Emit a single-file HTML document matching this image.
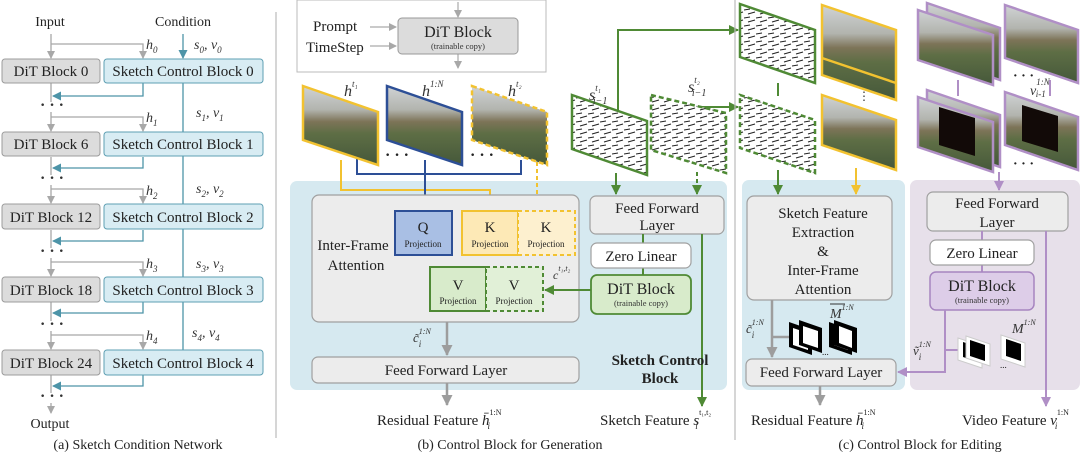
<!DOCTYPE html>
<html><head><meta charset="utf-8"><style>
html,body{margin:0;padding:0;background:#fff;}
svg{display:block;font-family:"Liberation Serif",serif;}
</style></head><body>
<svg width="1080" height="458" viewBox="0 0 1080 458" xmlns="http://www.w3.org/2000/svg">
<defs>
<marker id="ag" markerWidth="8" markerHeight="8" refX="7" refY="4" orient="auto" markerUnits="userSpaceOnUse"><path d="M0,0 L8,4 L0,8 z" fill="#a8a8a8"/></marker>
<marker id="at" markerWidth="9" markerHeight="9" refX="8" refY="4.5" orient="auto" markerUnits="userSpaceOnUse"><path d="M0,0 L9,4.5 L0,9 z" fill="#4d94a8"/></marker>
<marker id="agr" markerWidth="10" markerHeight="10" refX="9" refY="5" orient="auto" markerUnits="userSpaceOnUse"><path d="M0,0 L10,5 L0,10 z" fill="#4f8a35"/></marker>
<marker id="ay" markerWidth="10" markerHeight="10" refX="9" refY="5" orient="auto" markerUnits="userSpaceOnUse"><path d="M0,0 L10,5 L0,10 z" fill="#f2c230"/></marker>
<marker id="ab" markerWidth="10" markerHeight="10" refX="9" refY="5" orient="auto" markerUnits="userSpaceOnUse"><path d="M0,0 L10,5 L0,10 z" fill="#2d4f96"/></marker>
<marker id="ap" markerWidth="10" markerHeight="10" refX="9" refY="5" orient="auto" markerUnits="userSpaceOnUse"><path d="M0,0 L10,5 L0,10 z" fill="#b08fc6"/></marker>
<marker id="agy" markerWidth="11" markerHeight="11" refX="10" refY="5.5" orient="auto" markerUnits="userSpaceOnUse"><path d="M0,0 L11,5.5 L0,11 z" fill="#9d9d9d"/></marker>
<linearGradient id="photo" x1="0" y1="0" x2="0" y2="1">
<stop offset="0" stop-color="#d0d3d5"/><stop offset="0.3" stop-color="#b2b4ae"/><stop offset="0.45" stop-color="#7d7458"/><stop offset="0.6" stop-color="#5e6e45"/><stop offset="1" stop-color="#45583a"/></linearGradient>
<pattern id="sk" width="12" height="8" patternUnits="userSpaceOnUse"><rect width="12" height="8" fill="#fff"/><path d="M0,2 L6,1 M4,6 L11,4" stroke="#222" stroke-width="1.1"/></pattern>
</defs>

<!-- ===== Panel (a) ===== -->
<g font-size="14" fill="#222">
<text x="50" y="26" text-anchor="middle">Input</text>
<text x="183" y="26" text-anchor="middle">Condition</text>
</g>
<line x1="276" y1="12" x2="276" y2="438" stroke="#bbb" stroke-width="1.2"/>
<line x1="51" y1="34" x2="51" y2="58" stroke="#a8a8a8" stroke-width="1.3" marker-end="url(#ag)"/>
<line x1="183" y1="34" x2="183" y2="58" stroke="#4d94a8" stroke-width="1.3" marker-end="url(#at)"/>
<line x1="183" y1="83" x2="183" y2="350" stroke="#4d94a8" stroke-width="1.3"/>
<g stroke-width="1.3" fill="none">
<path d="M51,44 H143 V58" stroke="#a8a8a8" marker-end="url(#ag)"/>
<path d="M51,117 H143 V131" stroke="#a8a8a8" marker-end="url(#ag)"/>
<path d="M51,189 H143 V203" stroke="#a8a8a8" marker-end="url(#ag)"/>
<path d="M51,262 H143 V276" stroke="#a8a8a8" marker-end="url(#ag)"/>
<path d="M51,335 H143 V349" stroke="#a8a8a8" marker-end="url(#ag)"/>
<path d="M51,83 V102 M51,112 V131" stroke="#a8a8a8" marker-end="url(#ag)"/>
<path d="M51,157 V175 M51,185 V203" stroke="#a8a8a8" marker-end="url(#ag)"/>
<path d="M51,230 V248 M51,258 V276" stroke="#a8a8a8" marker-end="url(#ag)"/>
<path d="M51,302 V321 M51,331 V349" stroke="#a8a8a8" marker-end="url(#ag)"/>
<path d="M51,375 V393 M51,403 V413" stroke="#a8a8a8" marker-end="url(#ag)"/>
<path d="M143,83 V96 H53" stroke="#4d94a8" marker-end="url(#at)"/>
<path d="M143,157 V168 H53" stroke="#4d94a8" marker-end="url(#at)"/>
<path d="M143,230 V241 H53" stroke="#4d94a8" marker-end="url(#at)"/>
<path d="M143,302 V313 H53" stroke="#4d94a8" marker-end="url(#at)"/>
<path d="M143,375 V386 H53" stroke="#4d94a8" marker-end="url(#at)"/>
</g>
<g font-size="15" fill="#222">
<rect x="2" y="59" width="98" height="24" rx="3" fill="#dcdcdc" stroke="#9c9c9c"/>
<rect x="104" y="59" width="159" height="24" rx="3" fill="#d8ecf3" stroke="#5e9fb3"/>
<text x="51" y="76" text-anchor="middle">DiT Block 0</text><text x="183" y="76" text-anchor="middle">Sketch Control Block 0</text>
<rect x="2" y="132" width="98" height="24" rx="3" fill="#dcdcdc" stroke="#9c9c9c"/>
<rect x="104" y="132" width="159" height="24" rx="3" fill="#d8ecf3" stroke="#5e9fb3"/>
<text x="51" y="149" text-anchor="middle">DiT Block 6</text><text x="183" y="149" text-anchor="middle">Sketch Control Block 1</text>
<rect x="2" y="204" width="98" height="25" rx="3" fill="#dcdcdc" stroke="#9c9c9c"/>
<rect x="104" y="204" width="159" height="25" rx="3" fill="#d8ecf3" stroke="#5e9fb3"/>
<text x="51" y="222" text-anchor="middle">DiT Block 12</text><text x="183" y="222" text-anchor="middle">Sketch Control Block 2</text>
<rect x="2" y="277" width="98" height="25" rx="3" fill="#dcdcdc" stroke="#9c9c9c"/>
<rect x="104" y="277" width="159" height="25" rx="3" fill="#d8ecf3" stroke="#5e9fb3"/>
<text x="51" y="295" text-anchor="middle">DiT Block 18</text><text x="183" y="295" text-anchor="middle">Sketch Control Block 3</text>
<rect x="2" y="350" width="98" height="25" rx="3" fill="#dcdcdc" stroke="#9c9c9c"/>
<rect x="104" y="350" width="159" height="25" rx="3" fill="#d8ecf3" stroke="#5e9fb3"/>
<text x="51" y="368" text-anchor="middle">DiT Block 24</text><text x="183" y="368" text-anchor="middle">Sketch Control Block 4</text>
</g>
<g font-size="16" fill="#333" font-weight="bold">
<text x="40" y="110">· · ·</text><text x="40" y="183">· · ·</text><text x="40" y="256">· · ·</text><text x="40" y="329">· · ·</text><text x="40" y="401">· · ·</text>
</g>
<g font-size="14" fill="#333" font-style="italic">
<text x="146" y="49">h<tspan font-size="9" dy="4">0</tspan></text>
<text x="146" y="122">h<tspan font-size="9" dy="4">1</tspan></text>
<text x="146" y="195">h<tspan font-size="9" dy="4">2</tspan></text>
<text x="146" y="268">h<tspan font-size="9" dy="4">3</tspan></text>
<text x="146" y="340">h<tspan font-size="9" dy="4">4</tspan></text>
<text x="194" y="49">s<tspan font-size="9" dy="4">0</tspan><tspan dy="-4">, v</tspan><tspan font-size="9" dy="4">0</tspan></text>
<text x="196" y="117">s<tspan font-size="9" dy="4">1</tspan><tspan dy="-4">, v</tspan><tspan font-size="9" dy="4">1</tspan></text>
<text x="196" y="193">s<tspan font-size="9" dy="4">2</tspan><tspan dy="-4">, v</tspan><tspan font-size="9" dy="4">2</tspan></text>
<text x="196" y="268">s<tspan font-size="9" dy="4">3</tspan><tspan dy="-4">, v</tspan><tspan font-size="9" dy="4">3</tspan></text>
<text x="192" y="337">s<tspan font-size="9" dy="4">4</tspan><tspan dy="-4">, v</tspan><tspan font-size="9" dy="4">4</tspan></text>
</g>
<text x="50" y="428" font-size="14" text-anchor="middle" fill="#222">Output</text>
<text x="138" y="449" font-size="14" text-anchor="middle" fill="#222">(a) Sketch Condition Network</text>

<!-- ===== Panel (b) ===== -->
<rect x="297" y="0" width="249" height="72" fill="#fff" stroke="#bbb"/>
<line x1="458" y1="2" x2="458" y2="17" stroke="#aaa" stroke-width="1.2" marker-end="url(#ag)"/>
<line x1="458" y1="54" x2="458" y2="68" stroke="#aaa" stroke-width="1.2" marker-end="url(#ag)"/>
<rect x="398" y="18" width="120" height="36" rx="4" fill="#dcdcdc" stroke="#999"/>
<text x="458" y="37" font-size="16" text-anchor="middle" fill="#222">DiT Block</text>
<text x="458" y="49" font-size="8.5" text-anchor="middle" fill="#333">(trainable copy)</text>
<text x="313" y="31" font-size="15" fill="#222">Prompt</text>
<text x="306" y="52" font-size="15" fill="#222">TimeStep</text>
<line x1="370" y1="27" x2="396" y2="27" stroke="#aaa" stroke-width="1.2" marker-end="url(#ag)"/>
<line x1="370" y1="46" x2="396" y2="46" stroke="#aaa" stroke-width="1.2" marker-end="url(#ag)"/>

<rect x="290" y="181" width="437" height="209" rx="7" fill="#d6e9f0"/>
<path d="M341,160 V190 H490 V208" stroke="#f2c230" stroke-width="2" fill="none" marker-end="url(#ay)"/>
<path d="M537,162 V208" stroke="#f2c230" stroke-width="2" fill="none" stroke-dasharray="4,3" marker-end="url(#ay)"/>
<path d="M357,157 V174 H521 V160" stroke="#2d4f96" stroke-width="2" fill="none"/>
<line x1="425" y1="160" x2="425" y2="208" stroke="#2d4f96" stroke-width="2" marker-end="url(#ab)"/>
<path d="M616,173 V194" stroke="#4f8a35" stroke-width="2" marker-end="url(#agr)"/>
<path d="M697,172 V194" stroke="#4f8a35" stroke-width="2" stroke-dasharray="4,3" marker-end="url(#agr)"/>
<path d="M618,120 V30 H738" stroke="#4f8a35" stroke-width="2" fill="none" marker-end="url(#agr)"/>
<path d="M682,107 H738" stroke="#4f8a35" stroke-width="2" fill="none" marker-end="url(#agr)"/>

<polygon points="303,86 378,112 378,165 303,140" fill="url(#photo)" stroke="#f2c230" stroke-width="2.5"/>
<polygon points="387,86 462,112 462,165 387,140" fill="url(#photo)" stroke="#2d4f96" stroke-width="2.5"/>
<polygon points="472,86 547,112 547,165 472,140" fill="url(#photo)" stroke="#f2c230" stroke-width="2.5" stroke-dasharray="5,3"/>
<text x="385" y="160" font-size="16" font-weight="bold" fill="#222">· · ·</text>
<text x="470" y="160" font-size="16" font-weight="bold" fill="#222">· · ·</text>
<polygon points="572,95 647,121 647,175 572,149" fill="url(#sk)" stroke="#4f8a35" stroke-width="2.5"/>
<polygon points="651,95 726,113 726,173 651,150" fill="url(#sk)" stroke="#4f8a35" stroke-width="2.5" stroke-dasharray="5,3"/>
<g font-size="16" font-style="italic" fill="#333">
<text x="344" y="96">h<tspan font-size="9" dy="-9">t₁</tspan></text>
<text x="422" y="96">h<tspan font-size="9" dy="-9">1:N</tspan></text>
<text x="508" y="96">h<tspan font-size="9" dy="-9">t₂</tspan></text>
<text x="589" y="100">s<tspan font-size="9" dy="-9">t₁</tspan><tspan font-size="10" dx="-8" dy="13">i−1</tspan></text>
<text x="688" y="92">s<tspan font-size="9" dy="-9">t₂</tspan><tspan font-size="10" dx="-8" dy="13">i−1</tspan></text>
</g>

<rect x="312" y="195" width="267" height="127" rx="7" fill="#ececec" stroke="#a0a0a0" stroke-width="1.2"/>
<text x="353" y="250" font-size="15" text-anchor="middle" fill="#222">Inter-Frame</text>
<text x="356" y="270" font-size="15" text-anchor="middle" fill="#222">Attention</text>
<rect x="395" y="211" width="57" height="44" fill="#a9bfe4" stroke="#2d4f96" stroke-width="2"/>
<text x="423" y="232" font-size="15" text-anchor="middle" fill="#222">Q</text>
<text x="423" y="247" font-size="9" text-anchor="middle" fill="#222">Projection</text>
<rect x="462" y="211" width="56" height="44" fill="#fde9b6" stroke="#f2c230" stroke-width="2"/>
<rect x="518" y="211" width="57" height="44" fill="#fdf0cf" stroke="#f2c230" stroke-width="2" stroke-dasharray="4,3"/>
<text x="490" y="232" font-size="15" text-anchor="middle" fill="#222">K</text>
<text x="490" y="247" font-size="9" text-anchor="middle" fill="#222">Projection</text>
<text x="546" y="232" font-size="15" text-anchor="middle" fill="#222">K</text>
<text x="546" y="247" font-size="9" text-anchor="middle" fill="#222">Projection</text>
<rect x="430" y="267" width="56" height="44" fill="#d8ebcb" stroke="#4f8a35" stroke-width="2"/>
<rect x="486" y="267" width="57" height="44" fill="#e1f0d7" stroke="#4f8a35" stroke-width="2" stroke-dasharray="4,3"/>
<text x="458" y="290" font-size="15" text-anchor="middle" fill="#222">V</text>
<text x="458" y="304" font-size="9" text-anchor="middle" fill="#222">Projection</text>
<text x="514" y="290" font-size="15" text-anchor="middle" fill="#222">V</text>
<text x="514" y="304" font-size="9" text-anchor="middle" fill="#222">Projection</text>
<text x="553" y="279" font-size="12" font-style="italic" fill="#333">c<tspan font-size="8" dy="-8">t₁,t₂</tspan></text>

<rect x="590" y="196" width="134" height="38" rx="6" fill="#ececec" stroke="#a0a0a0" stroke-width="1.2"/>
<text x="657" y="213" font-size="15" text-anchor="middle" fill="#222">Feed Forward</text>
<text x="657" y="230" font-size="15" text-anchor="middle" fill="#222">Layer</text>
<line x1="643" y1="234" x2="643" y2="275" stroke="#4f8a35" stroke-width="2"/>
<rect x="591" y="243" width="100" height="25" rx="6" fill="#fff" stroke="#a0a0a0" stroke-width="1.2"/>
<text x="641" y="261" font-size="15" text-anchor="middle" fill="#222">Zero Linear</text>
<rect x="591" y="275" width="100" height="39" rx="6" fill="#d8ebcb" stroke="#4f8a35" stroke-width="1.8"/>
<text x="641" y="294" font-size="16" text-anchor="middle" fill="#222">DiT Block</text>
<text x="641" y="306" font-size="8.5" text-anchor="middle" fill="#333">(trainable copy)</text>
<line x1="591" y1="290" x2="545" y2="290" stroke="#4f8a35" stroke-width="2" marker-end="url(#agr)"/>
<line x1="702" y1="234" x2="702" y2="406" stroke="#4f8a35" stroke-width="2" marker-end="url(#agr)"/>
<line x1="447" y1="322" x2="447" y2="355" stroke="#9d9d9d" stroke-width="2.5" marker-end="url(#agy)"/>
<text x="413" y="342" font-size="13" font-style="italic" fill="#333">c̃<tspan font-size="8" dy="-8">1:N</tspan><tspan font-size="9" dx="-12" dy="13">i</tspan></text>
<rect x="312" y="357" width="267" height="26" rx="6" fill="#ececec" stroke="#a0a0a0" stroke-width="1.2"/>
<text x="446" y="375" font-size="15" text-anchor="middle" fill="#222">Feed Forward Layer</text>
<line x1="447" y1="383" x2="447" y2="405" stroke="#9d9d9d" stroke-width="2.5" marker-end="url(#agy)"/>
<text x="660" y="365" font-size="15" font-weight="bold" text-anchor="middle" fill="#222">Sketch Control</text>
<text x="660" y="383" font-size="15" font-weight="bold" text-anchor="middle" fill="#222">Block</text>
<text x="377" y="425" font-size="15" fill="#222">Residual Feature <tspan font-style="italic">h̄</tspan><tspan font-size="8" dy="-10">1:N</tspan><tspan font-size="9" font-style="italic" dx="-14" dy="14">i</tspan></text>
<text x="600" y="425" font-size="15" fill="#222">Sketch Feature <tspan font-style="italic">s</tspan><tspan font-size="8" dy="-10">t₁,t₂</tspan><tspan font-size="9" font-style="italic" dx="-16" dy="14">i</tspan></text>
<text x="510" y="449" font-size="14" text-anchor="middle" fill="#222">(b) Control Block for Generation</text>
<line x1="735" y1="0" x2="735" y2="440" stroke="#bbb" stroke-width="1.2"/>

<!-- ===== Panel (c) ===== -->
<rect x="742" y="180" width="163" height="210" rx="7" fill="#d6e9f0"/>
<rect x="910" y="180" width="170" height="210" rx="7" fill="#e7e0ea"/>
<line x1="778" y1="83" x2="778" y2="96" stroke="#4f8a35" stroke-width="2"/>
<line x1="778" y1="170" x2="778" y2="194" stroke="#4f8a35" stroke-width="2" marker-end="url(#agr)"/>
<line x1="856" y1="168" x2="856" y2="194" stroke="#f2c230" stroke-width="2" marker-end="url(#ay)"/>
<polygon points="740,4 815,30 815,83 740,57" fill="url(#sk)" stroke="#4f8a35" stroke-width="2.5"/>
<polygon points="740,95 815,120 815,173 740,148" fill="url(#sk)" stroke="#4f8a35" stroke-width="2.5" stroke-dasharray="5,3"/>
<polygon points="822,5 896,30 896,100 822,75" fill="url(#photo)" stroke="#f2c230" stroke-width="2.5"/>
<line x1="822" y1="58" x2="896" y2="83" stroke="#f2c230" stroke-width="2.5"/>
<polygon points="822,95 896,120 896,170 822,145" fill="url(#photo)" stroke="#f2c230" stroke-width="2.5"/>
<text x="858" y="100" font-size="12" fill="#333">⋮</text>
<path d="M958,80 V96 M1050,80 V96" stroke="#b08fc6" stroke-width="2"/>
<line x1="999" y1="172" x2="999" y2="190" stroke="#b08fc6" stroke-width="2" marker-end="url(#ap)"/>
<polygon points="927,3 1000,28 1000,80 927,55" fill="url(#photo)" stroke="#b08fc6" stroke-width="2.5"/>
<polygon points="918,10 993,35 993,85 918,60" fill="url(#photo)" stroke="#b08fc6" stroke-width="2.5"/>
<polygon points="1005,5 1078,30 1078,83 1005,58" fill="url(#photo)" stroke="#b08fc6" stroke-width="2.5"/>
<polygon points="927,90 1000,115 1000,167 927,142" fill="url(#photo)" stroke="#b08fc6" stroke-width="2.5"/>
<polygon points="918,97 993,122 993,172 918,147" fill="url(#photo)" stroke="#b08fc6" stroke-width="2.5"/>
<polygon points="939,107 975,118 975,156 939,145" fill="#120a08"/>
<polygon points="1005,92 1078,117 1078,170 1005,145" fill="url(#photo)" stroke="#b08fc6" stroke-width="2.5"/>
<polygon points="1022,105 1058,116 1058,152 1022,141" fill="#120a08"/>
<text x="1013" y="80" font-size="14" font-weight="bold" fill="#222">· · ·</text>
<text x="1013" y="168" font-size="14" font-weight="bold" fill="#222">· · ·</text>
<text x="1030" y="95" font-size="14" font-style="italic" fill="#333">v<tspan font-size="9" dy="-10">1:N</tspan><tspan font-size="9" dx="-14" dy="12">i-1</tspan></text>

<rect x="747" y="196" width="145" height="104" rx="7" fill="#ececec" stroke="#a0a0a0" stroke-width="1.2"/>
<g font-size="15" text-anchor="middle" fill="#222">
<text x="823" y="218">Sketch Feature</text>
<text x="823" y="237">Extraction</text>
<text x="823" y="256">&amp;</text>
<text x="823" y="275">Inter-Frame</text>
<text x="823" y="294">Attention</text>
</g>
<line x1="772" y1="300" x2="772" y2="357" stroke="#9d9d9d" stroke-width="2.5" marker-end="url(#agy)"/>
<line x1="772" y1="337" x2="795" y2="337" stroke="#9d9d9d" stroke-width="2.5"/>
<text x="746" y="333" font-size="13" font-style="italic" fill="#333">c̃<tspan font-size="8" dy="-8">1:N</tspan><tspan font-size="9" dx="-12" dy="13">i</tspan></text>
<g>
<polygon points="789,322 812,330 812,355 789,347" fill="#000"/>
<polygon points="793,328 808,333 808,350 793,345" fill="#fff"/>
<polygon points="799,320 822,328 822,353 799,345" fill="#000"/>
<polygon points="803,326 818,331 818,348 803,343" fill="#fff"/>
<polygon points="829,322 852,330 852,355 829,347" fill="#000"/>
<polygon points="834,328 848,333 848,350 834,345" fill="#fff"/>
<polygon points="834,320 857,328 857,353 834,345" fill="#000"/>
<polygon points="839,326 852,331 852,348 839,343" fill="#fff"/>
<text x="822" y="355" font-size="9" fill="#222">...</text>
</g>
<text x="830" y="318" font-size="14" font-style="italic" fill="#333">M<tspan font-size="8" dy="-8">1:N</tspan></text>
<line x1="830" y1="304" x2="845" y2="304" stroke="#333" stroke-width="1"/>
<rect x="746" y="359" width="150" height="27" rx="6" fill="#ececec" stroke="#a0a0a0" stroke-width="1.2"/>
<text x="821" y="377" font-size="15" text-anchor="middle" fill="#222">Feed Forward Layer</text>
<line x1="820" y1="386" x2="820" y2="405" stroke="#9d9d9d" stroke-width="2.5" marker-end="url(#agy)"/>
<text x="751" y="425" font-size="15" fill="#222">Residual Feature <tspan font-style="italic">h̄</tspan><tspan font-size="8" dy="-10">1:N</tspan><tspan font-size="9" font-style="italic" dx="-14" dy="14">i</tspan></text>

<rect x="927" y="192" width="141" height="39" rx="6" fill="#ececec" stroke="#a0a0a0" stroke-width="1.2"/>
<text x="997" y="208" font-size="15" text-anchor="middle" fill="#222">Feed Forward</text>
<text x="997" y="227" font-size="15" text-anchor="middle" fill="#222">Layer</text>
<line x1="982" y1="231" x2="982" y2="272" stroke="#b08fc6" stroke-width="2"/>
<rect x="930" y="240" width="104" height="25" rx="6" fill="#fff" stroke="#a0a0a0" stroke-width="1.2"/>
<text x="982" y="258" font-size="15" text-anchor="middle" fill="#222">Zero Linear</text>
<rect x="930" y="272" width="104" height="38" rx="6" fill="#ddcde8" stroke="#a785c0" stroke-width="1.5"/>
<text x="982" y="291" font-size="16" text-anchor="middle" fill="#222">DiT Block</text>
<text x="982" y="303" font-size="8.5" text-anchor="middle" fill="#333">(trainable copy)</text>
<path d="M945,310 V372 H898" stroke="#b08fc6" stroke-width="2" fill="none" marker-end="url(#ap)"/>
<line x1="945" y1="350" x2="958" y2="350" stroke="#b08fc6" stroke-width="2"/>
<line x1="1046" y1="231" x2="1046" y2="406" stroke="#b08fc6" stroke-width="2" marker-end="url(#ap)"/>
<text x="913" y="355" font-size="13" font-style="italic" fill="#333">ṽ<tspan font-size="8" dy="-8">1:N</tspan><tspan font-size="9" dx="-12" dy="13">i</tspan></text>
<g>
<polygon points="958,338 982,346 982,368 958,360" fill="#fff" stroke="#ccc"/>
<polygon points="963,342 978,347 978,362 963,357" fill="#000"/>
<polygon points="966,336 990,344 990,366 966,358" fill="#fff" stroke="#ccc"/>
<polygon points="970,340 985,345 985,361 970,356" fill="#000"/>
<polygon points="1001,335 1025,343 1025,367 1001,359" fill="#fff" stroke="#ccc"/>
<polygon points="1006,339 1021,344 1021,361 1006,356" fill="#000"/>
<text x="1000" y="368" font-size="9" fill="#222">...</text>
</g>
<text x="1012" y="333" font-size="14" font-style="italic" fill="#333">M<tspan font-size="8" dy="-8">1:N</tspan></text>
<text x="962" y="425" font-size="15" fill="#222">Video Feature <tspan font-style="italic">v</tspan><tspan font-size="8" dy="-10">1:N</tspan><tspan font-size="9" font-style="italic" dx="-14" dy="14">i</tspan></text>
<text x="920" y="449" font-size="14" text-anchor="middle" fill="#222">(c) Control Block for Editing</text>
</svg>
</body></html>
